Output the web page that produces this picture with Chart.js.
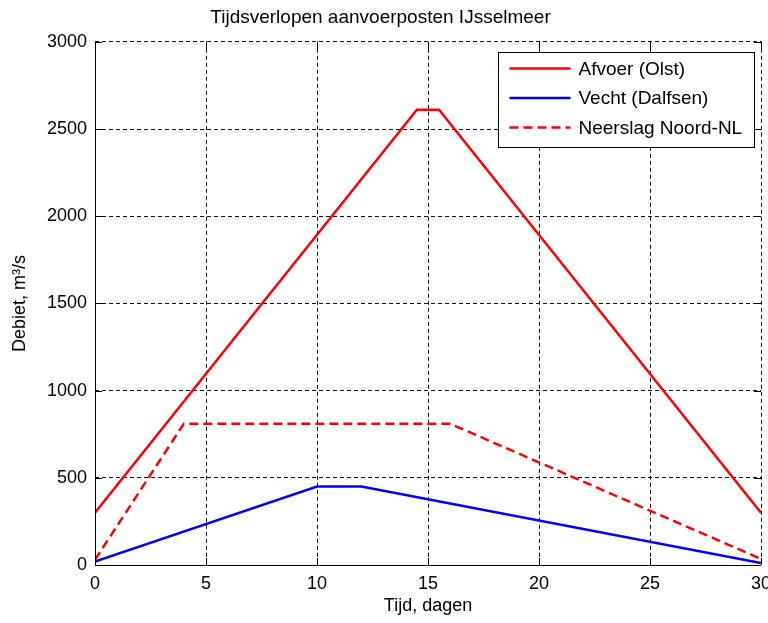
<!DOCTYPE html>
<html>
<head>
<meta charset="utf-8">
<script src="https://cdn.jsdelivr.net/npm/chart.js@4"></script>
<style>
  html, body { margin: 0; padding: 0; background: #fff; }
  canvas { display: block; }
</style>
</head>
<body>
<canvas id="chart" width="768" height="623"></canvas>
<script>
// data (x = dagen, y = m3/s)
const afvoerX = [0, 14.5, 15.5, 30]
const afvoerY = [300, 2610, 2610, 300]
const vechtX = [0, 10, 12, 30]
const vechtY = [20, 450, 450, 12]
const neerslagX = [0, 4, 16, 30]
const neerslagY = [30, 810, 810, 35]

const seriesLabels = ['Afvoer (Olst)', 'Vecht (Dalfsen)', 'Neerslag Noord-NL']
const xTicks = [0, 5, 10, 15, 20, 25, 30]
const yTicks = [0, 500, 1000, 1500, 2000, 2500, 3000]

const fontFamily = '"Liberation Sans", Arial, Helvetica, sans-serif'
const red = '#ff0000'
const blue = '#0000ff'

const toPoints = (xs, ys) => xs.map((x, i) => ({ x: x, y: ys[i] }))

// MATLAB-like extras: inward ticks on all four sides + boxed legend
const matlabAxes = {
  id: 'matlabAxes',
  afterDraw (chart) {
    const { ctx, chartArea: a, scales } = chart
    const tl = 7
    ctx.save()
    ctx.strokeStyle = '#000'
    ctx.lineWidth = 1
    ctx.beginPath()
    xTicks.forEach(v => {
      const px = Math.round(scales.x.getPixelForValue(v)) + 0.5
      ctx.moveTo(px, a.bottom); ctx.lineTo(px, a.bottom - tl)
      ctx.moveTo(px, a.top); ctx.lineTo(px, a.top + tl)
    })
    yTicks.forEach(v => {
      const py = Math.round(scales.y.getPixelForValue(v)) + 0.5
      ctx.moveTo(a.left, py); ctx.lineTo(a.left + tl, py)
      ctx.moveTo(a.right, py); ctx.lineTo(a.right - tl, py)
    })
    ctx.stroke()

    // left and bottom axis lines
    ctx.beginPath()
    ctx.moveTo(Math.round(a.left) + 0.5, a.top)
    ctx.lineTo(Math.round(a.left) + 0.5, Math.round(a.bottom) + 0.5)
    ctx.lineTo(a.right, Math.round(a.bottom) + 0.5)
    ctx.stroke()

    // legend
    const bw = 256, bh = 95
    const bx = Math.round(a.right - 7 - bw) + 0.5
    const by = Math.round(a.top + 10) + 0.5
    ctx.fillStyle = '#fff'
    ctx.fillRect(bx, by, bw, bh)
    ctx.strokeRect(bx, by, bw, bh)
    ctx.font = '19px ' + fontFamily
    ctx.textBaseline = 'middle'
    chart.data.datasets.forEach((ds, i) => {
      const ry = by + 16 + i * 29.5
      ctx.strokeStyle = ds.borderColor
      ctx.lineWidth = ds.borderWidth
      ctx.setLineDash(ds.borderDash || [])
      ctx.beginPath()
      ctx.moveTo(bx + 11, ry); ctx.lineTo(bx + 72, ry)
      ctx.stroke()
      ctx.setLineDash([])
      ctx.fillStyle = '#000'
      ctx.fillText(ds.label, bx + 80, ry + 1)
    })
    ctx.restore()
  }
}

new Chart(document.getElementById('chart').getContext('2d'), {
  type: 'line',
  data: {
    datasets: [
      {
        label: seriesLabels[0],
        data: toPoints(afvoerX, afvoerY),
        borderColor: red,
        borderWidth: 2.5
      }, {
        label: seriesLabels[1],
        data: toPoints(vechtX, vechtY),
        borderColor: blue,
        borderWidth: 2.5
      }, {
        label: seriesLabels[2],
        data: toPoints(neerslagX, neerslagY),
        borderColor: red,
        borderWidth: 2.5,
        borderDash: [9, 5]
      }
    ]
  },
  options: {
    responsive: false,
    animation: false,
    devicePixelRatio: 1,
    elements: {
      point: { radius: 0, hoverRadius: 0 },
      line: { tension: 0, fill: false, borderCapStyle: 'butt' }
    },
    layout: { padding: { left: 0, right: 7, top: 0, bottom: 0 } },
    plugins: {
      legend: { display: false },
      tooltip: { enabled: false },
      title: {
        display: true,
        text: 'Tijdsverlopen aanvoerposten IJsselmeer',
        color: '#000',
        font: { family: fontFamily, size: 19, weight: 'normal' },
        padding: { top: 6, bottom: 13 }
      }
    },
    scales: {
      x: {
        type: 'linear',
        min: 0,
        max: 30,
        afterBuildTicks: s => { s.ticks = xTicks.map(v => ({ value: v })) },
        afterFit: s => { s.height = 58; s.paddingLeft = 0; s.paddingRight = 0 },
        grid: {
          color: '#111',
          lineWidth: 1,
          drawTicks: false
        },
        border: { display: false, dash: [4, 3] },
        ticks: {
          color: '#000',
          padding: 8,
          maxRotation: 0,
          font: { family: fontFamily, size: 18 },
          callback: v => String(v)
        },
        title: {
          display: true,
          text: 'Tijd, dagen',
          color: '#000',
          font: { family: fontFamily, size: 18 },
          padding: { top: 0, bottom: 6 }
        }
      },
      y: {
        min: 0,
        max: 3000,
        afterBuildTicks: s => { s.ticks = yTicks.map(v => ({ value: v })) },
        afterFit: s => { s.width = 95 },
        grid: {
          color: '#111',
          lineWidth: 1,
          drawTicks: false
        },
        border: { display: false, dash: [4, 3] },
        ticks: {
          color: '#000',
          padding: 8,
          font: { family: fontFamily, size: 18 },
          callback: v => String(v)
        },
        title: {
          display: true,
          text: 'Debiet, m³/s',
          color: '#000',
          font: { family: fontFamily, size: 18 },
          padding: { top: 9, bottom: 0 }
        }
      }
    }
  },
  plugins: [matlabAxes]
})
</script>
</body>
</html>
